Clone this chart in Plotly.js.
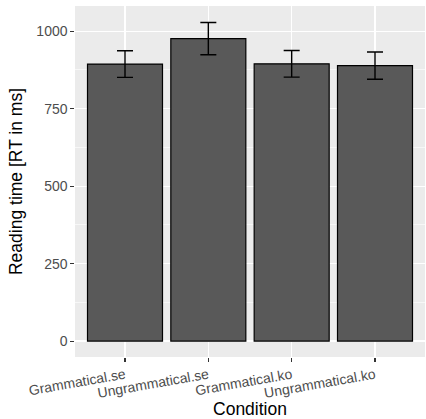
<!DOCTYPE html>
<html><head><meta charset="utf-8">
<script src="https://cdn.plot.ly/plotly-3.0.1.min.js"></script>
<style>html,body{margin:0;padding:0;background:#fff}#c{width:426px;height:419px}</style>
</head><body><div id="c"></div>
<script>
const conditions = ["Grammatical.se", "Ungrammatical.se", "Grammatical.ko", "Ungrammatical.ko"];
const meanRT = [894, 976, 895, 889];
const errRT = [43, 52, 43, 44];
const yTicks = [0, 250, 500, 750, 1000];

const trace = {
  type: 'bar', x: conditions, y: meanRT, width: 0.9,
  marker: {color: '#595959', line: {color: '#000000', width: 1.2}},
  error_y: {type: 'data', array: errRT, visible: true, color: '#000000', thickness: 1.4, width: 8},
  hoverinfo: 'none'
};
const layout = {
  width: 426, height: 419,
  margin: {l: 75, r: 1, t: 6, b: 62},
  paper_bgcolor: '#ffffff', plot_bgcolor: '#EBEBEB',
  font: {family: 'Liberation Sans, Arial, sans-serif'},
  showlegend: false,
  xaxis: {
    type: 'category', range: [-0.6, 3.6], tickangle: -10,
    showgrid: true, gridcolor: '#ffffff', gridwidth: 1.2,
    ticks: 'outside', ticklen: 3.7, tickcolor: '#333333', tickwidth: 1.1,
    tickfont: {size: 14, color: '#4D4D4D'}, zeroline: false, showline: false,
    title: {text: 'Condition', font: {size: 17.5, color: '#000000'}, standoff: 3}
  },
  yaxis: {
    range: [-51.5, 1081.5], tickvals: yTicks, ticktext: yTicks.map(String),
    showgrid: true, gridcolor: '#ffffff', gridwidth: 1.2,
    minor: {tickvals: [125, 375, 625, 875], showgrid: true, gridcolor: '#ffffff', gridwidth: 0.6, ticks: ''},
    ticks: 'outside', ticklen: 3.7, tickcolor: '#333333', tickwidth: 1.1,
    tickfont: {size: 14, color: '#4D4D4D'}, zeroline: false, showline: false,
    title: {text: 'Reading time [RT in ms]', font: {size: 17.5, color: '#000000'}, standoff: 9}
  }
};
Plotly.newPlot('c', [trace], layout, {displayModeBar: false, staticPlot: true});
</script></body></html>
